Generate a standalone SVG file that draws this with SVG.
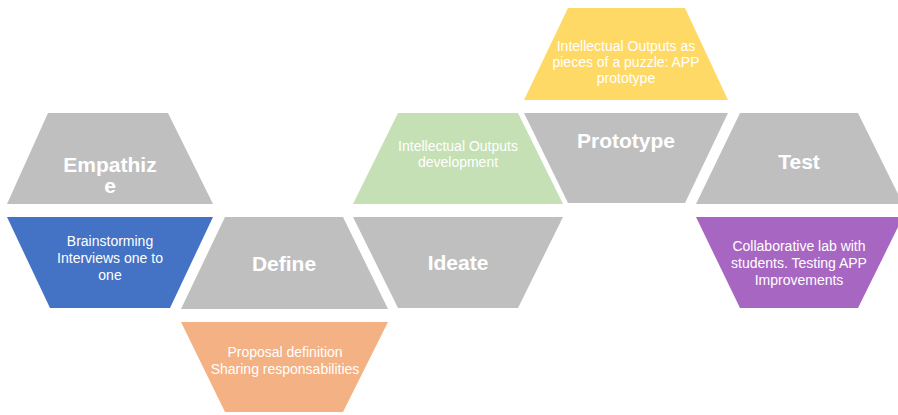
<svg xmlns="http://www.w3.org/2000/svg" width="898" height="415" viewBox="0 0 898 415">
  <style>
    .stage { fill: #bfbfbf; }
    .title { font-family: "Liberation Sans", Arial, sans-serif; font-weight: bold; font-size: 21px; fill: #ffffff; text-anchor: middle; }
    .note { font-family: "Liberation Sans", Arial, sans-serif; font-size: 14px; fill: #ffffff; text-anchor: middle; }
  </style>
  <rect width="898" height="415" fill="#ffffff"/>

  <!-- Empathize stage and its activities -->
  <g id="empathize">
    <polygon class="stage" points="48,113 168,113 213,204 7,204"/>
    <text class="title" x="110" y="172">Empathiz</text>
    <text class="title" x="110" y="193">e</text>
  </g>
  <g id="empathize-activities">
    <polygon fill="#4472c4" points="7,217 213,217 170,308 50,308"/>
    <text class="note" x="110" y="246">Brainstorming</text>
    <text class="note" x="110" y="263">Interviews one to</text>
    <text class="note" x="110" y="280">one</text>
  </g>

  <!-- Define stage and its activities -->
  <g id="define">
    <polygon class="stage" points="225,217 343,217 388,309 181,309"/>
    <text class="title" x="284" y="271">Define</text>
  </g>
  <g id="define-activities">
    <polygon fill="#f4b183" points="181,322 388,322 343,412 225,412"/>
    <text class="note" x="285" y="357">Proposal definition</text>
    <text class="note" x="285" y="374">Sharing responsabilities</text>
  </g>

  <!-- Ideate stage and its activities -->
  <g id="ideate-activities">
    <polygon fill="#c5e0b4" points="398,113 518,113 563,204 353,204"/>
    <text class="note" x="458" y="151">Intellectual Outputs</text>
    <text class="note" x="458" y="167">development</text>
  </g>
  <g id="ideate">
    <polygon class="stage" points="353,217 563,217 518,308 398,308"/>
    <text class="title" x="458" y="270">Ideate</text>
  </g>

  <!-- Prototype stage and its activities -->
  <g id="prototype-activities">
    <polygon fill="#ffd966" points="568,8 685,8 728,100 524,100"/>
    <text class="note" x="626" y="51">Intellectual Outputs as</text>
    <text class="note" x="626" y="67">pieces of a puzzle: APP</text>
    <text class="note" x="626" y="83">prototype</text>
  </g>
  <g id="prototype">
    <polygon class="stage" points="524,113 728,113 685,203 568,203"/>
    <text class="title" x="626" y="148">Prototype</text>
  </g>

  <!-- Test stage and its activities -->
  <g id="test">
    <polygon class="stage" points="740,113 858,113 903,204 696,204"/>
    <text class="title" x="799" y="169">Test</text>
  </g>
  <g id="test-activities">
    <polygon fill="#a866c3" points="696,217 903,217 858,308 740,308"/>
    <text class="note" x="799" y="251">Collaborative lab with</text>
    <text class="note" x="799" y="268">students. Testing APP</text>
    <text class="note" x="799" y="285">Improvements</text>
  </g>
</svg>
